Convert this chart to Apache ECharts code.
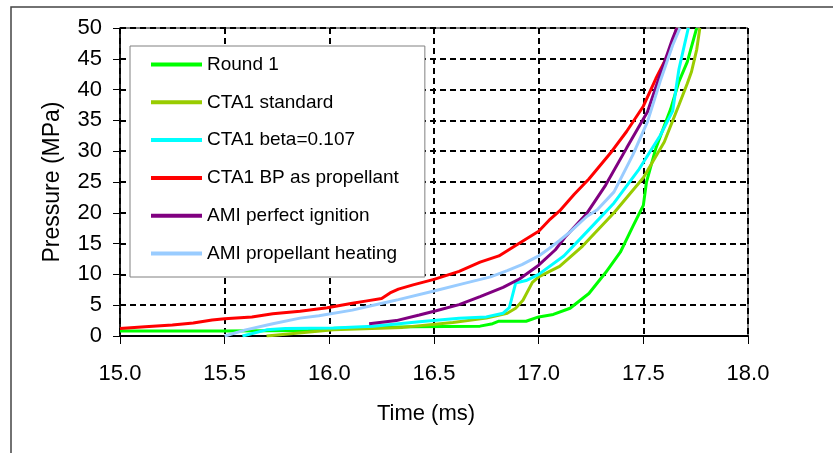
<!DOCTYPE html>
<html>
<head>
<meta charset="utf-8">
<title>Pressure vs time</title>
<script src="https://cdn.jsdelivr.net/npm/echarts@6/dist/echarts.min.js"></script>
<style>
  html, body { margin: 0; padding: 0; background: #fff; }
  #main { width: 833px; height: 453px; }
</style>
</head>
<body>
<div id="main"></div>
<script>
// time (ms) / pressure (MPa)
var round1T = [15.0, 15.5, 15.9, 16.0, 16.4, 16.72, 16.78, 16.81, 16.94, 17.0, 17.07, 17.15, 17.24, 17.32, 17.39, 17.45, 17.5, 17.515, 17.56, 17.63, 17.67, 17.71, 17.755];
var round1P = [0.8, 0.8, 0.9, 1.2, 1.5, 1.6, 2.0, 2.4, 2.4, 3.1, 3.5, 4.5, 6.9, 10.3, 13.6, 17.8, 21.2, 25.0, 30.5, 36.8, 41.3, 44.5, 50];

var standardT = [15.7, 15.79, 16.02, 16.35, 16.59, 16.75, 16.85, 16.89, 16.925, 16.97, 17.0, 17.1, 17.21, 17.36, 17.5, 17.6, 17.67, 17.71, 17.73, 17.755, 17.77];
var standardP = [0, 0.3, 1.0, 1.4, 2.2, 2.9, 3.7, 4.5, 5.8, 8.7, 9.6, 11.3, 14.6, 20.0, 25.7, 31.5, 37.5, 41.0, 42.9, 46.5, 50];

var betaT = [15.585, 15.7, 15.79, 16.02, 16.21, 16.43, 16.62, 16.75, 16.83, 16.86, 16.89, 16.94, 17.0, 17.12, 17.23, 17.36, 17.48, 17.58, 17.64, 17.67, 17.70, 17.715];
var betaP = [0, 1.0, 1.2, 1.3, 1.6, 2.3, 2.9, 3.1, 3.7, 4.6, 8.6, 9.0, 10.0, 13.0, 16.9, 21.6, 27.1, 32.5, 36.5, 43.3, 47.8, 50];

var bpT = [15.0, 15.12, 15.25, 15.35, 15.44, 15.5, 15.63, 15.73, 15.86, 15.99, 16.11, 16.18, 16.25, 16.29, 16.33, 16.40, 16.50, 16.62, 16.72, 16.81, 16.89, 17.0, 17.05, 17.10, 17.17, 17.24, 17.35, 17.42, 17.5, 17.56, 17.63, 17.66];
var bpP = [1.2, 1.5, 1.8, 2.1, 2.6, 2.8, 3.1, 3.6, 4.0, 4.6, 5.3, 5.7, 6.1, 7.0, 7.6, 8.3, 9.2, 10.5, 12.0, 13.0, 14.7, 17.0, 18.8, 20.3, 23.0, 25.5, 30.0, 33.2, 37.3, 41.8, 46.5, 50];

var perfectT = [16.19, 16.32, 16.43, 16.51, 16.62, 16.72, 16.83, 16.91, 17.0, 17.08, 17.13, 17.23, 17.32, 17.42, 17.52, 17.58, 17.64, 17.66];
var perfectP = [2.0, 2.5, 3.4, 4.1, 5.1, 6.4, 7.9, 9.3, 11.5, 14.0, 16.2, 19.9, 24.5, 30.5, 36.4, 42.4, 48.3, 50];

var heatingT = [15.5, 15.6, 15.73, 15.86, 15.95, 16.11, 16.21, 16.29, 16.33, 16.5, 16.64, 16.77, 16.85, 16.92, 17.0, 17.05, 17.1, 17.15, 17.23, 17.28, 17.36, 17.45, 17.52, 17.58, 17.64, 17.675];
var heatingP = [0, 1.0, 2.0, 2.9, 3.3, 4.2, 5.0, 5.6, 5.9, 7.3, 8.5, 9.6, 10.6, 11.6, 13.0, 14.2, 15.5, 16.9, 19.4, 20.5, 23.4, 29.4, 34.8, 41.3, 47.2, 50];

var seriesNames = ['Round 1', 'CTA1 standard', 'CTA1 beta=0.107', 'CTA1 BP as propellant', 'AMI perfect ignition', 'AMI propellant heating'];
var seriesColors = ['#00FF00', '#99CC00', '#00FFFF', '#FF0000', '#800080', '#99CCFF'];

function pairs(t, p) {
    var out = [];
    for (var i = 0; i < t.length; i++) out.push([t[i], p[i]]);
    return out;
}

var allData = [
    pairs(round1T, round1P),
    pairs(standardT, standardP),
    pairs(betaT, betaP),
    pairs(bpT, bpP),
    pairs(perfectT, perfectP),
    pairs(heatingT, heatingP)
];

var font = 'Liberation Sans, Arial, sans-serif';
var dashes = { color: '#000', width: 2, type: [6, 4] };

var myChart = echarts.init(document.getElementById('main'));

var option = {
    animation: false,
    textStyle: { fontFamily: font },
    graphic: [{
        type: 'rect',
        shape: { x: 11, y: 7, width: 900, height: 600 },
        style: { fill: 'none', stroke: '#444', lineWidth: 1.5 },
        silent: true
    }],
    grid: {
        left: 120, right: 85, top: 28, bottom: 117,
        show: true, borderColor: '#000', borderWidth: 1
    },
    legend: {
        orient: 'vertical',
        left: 130, top: 46,
        padding: [9, 26, 14, 21],
        icon: 'rect',
        itemWidth: 51, itemHeight: 4, itemGap: 18.8,
        backgroundColor: '#fff',
        borderColor: '#808080', borderWidth: 1,
        textStyle: { fontSize: 19, color: '#000', fontFamily: font },
        data: seriesNames
    },
    xAxis: {
        type: 'value',
        min: 15, max: 18, interval: 0.5,
        name: 'Time (ms)', nameLocation: 'middle', nameGap: 67,
        nameTextStyle: { fontSize: 22, color: '#000', fontFamily: font, padding: [0, 16, 0, 0] },
        axisLine: { lineStyle: { color: '#000', width: 2 } },
        axisTick: { inside: false, length: 8, lineStyle: { color: '#000', width: 1 } },
        axisLabel: { fontSize: 22, color: '#000', margin: 27, formatter: function (v) { return v.toFixed(1); } },
        splitLine: { show: true, lineStyle: dashes }
    },
    yAxis: {
        type: 'value',
        min: 0, max: 50, interval: 5,
        name: 'Pressure (MPa)', nameLocation: 'middle', nameGap: 56,
        nameTextStyle: { fontSize: 23, color: '#000', fontFamily: font },
        axisLine: { show: true, lineStyle: { color: '#000', width: 1.5 } },
        axisTick: { show: true, inside: false, length: 7, lineStyle: { color: '#000', width: 1 } },
        axisLabel: { fontSize: 22, color: '#000', margin: 18 },
        splitLine: { show: true, lineStyle: dashes }
    },
    series: seriesNames.map(function (name, i) {
        return {
            name: name,
            type: 'line',
            data: allData[i],
            symbol: 'none',
            color: seriesColors[i],
            lineStyle: { width: 3, color: seriesColors[i] }
        };
    })
};

myChart.setOption(option);
</script>
</body>
</html>
